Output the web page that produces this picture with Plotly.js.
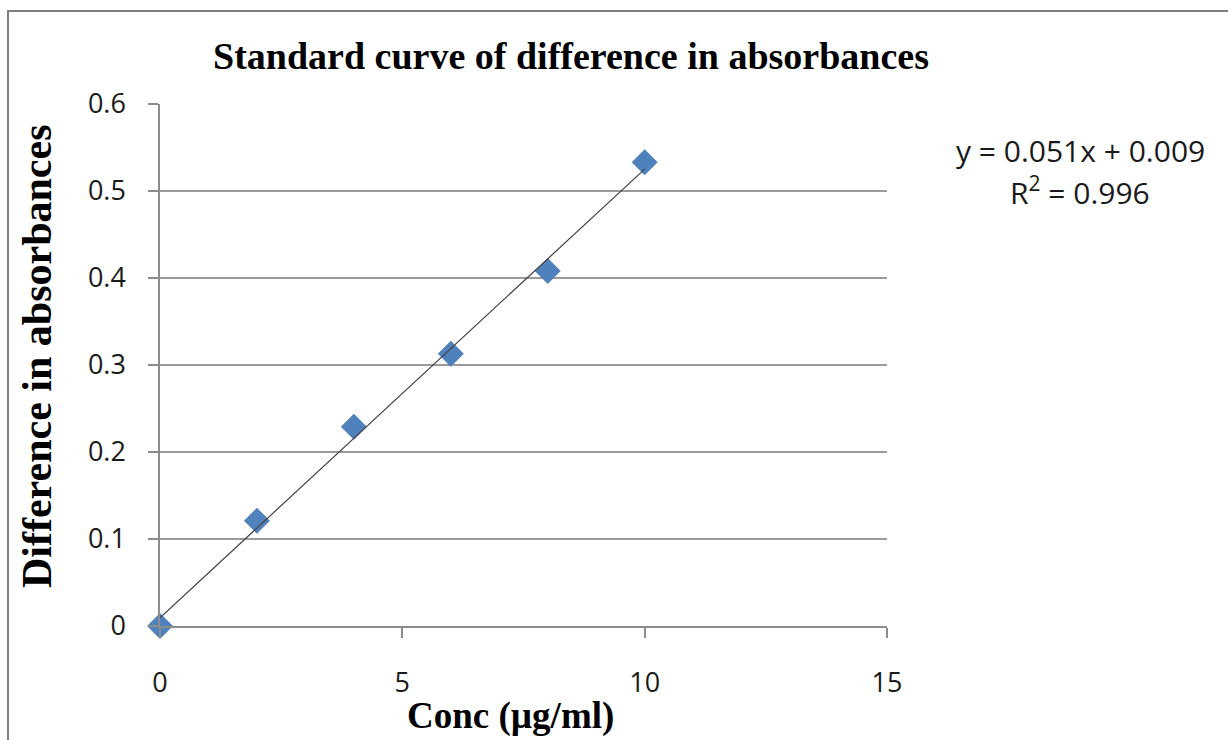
<!DOCTYPE html>
<html>
<head>
<meta charset="utf-8">
<script src="https://cdn.plot.ly/plotly-3.0.1.min.js"></script>
<style>
  html, body { margin: 0; padding: 0; background: #fff; }
  #wrap { position: absolute; left: 0; top: 0; width: 1228px; height: 740px; overflow: hidden; }
  #frame { position: absolute; left: 7px; top: 10px; width: 1240px; height: 760px;
           border-left: 2px solid #7f7f7f; border-top: 2px solid #7f7f7f; pointer-events: none; }
  #chart { position: absolute; left: 0; top: 0; width: 1228px; height: 740px; }
</style>
</head>
<body>
<div id="wrap">
  <div id="chart"></div>
  <div id="frame"></div>
</div>
<script>
// Data
const conc = [0, 2, 4, 6, 8, 10];
const absDiff = [0, 0.121, 0.229, 0.313, 0.408, 0.533];
const xTicks = [0, 5, 10, 15];
const yTicks = [0, 0.1, 0.2, 0.3, 0.4, 0.5, 0.6];
const titleText = "Standard curve of difference in absorbances";
const xTitle = "Conc (µg/ml)";
const yTitle = "Difference in absorbances";
const eqLine1 = "y = 0.051x + 0.009";
const eqLine2 = "R<sup>2</sup> = 0.996";

// Linear least-squares trendline computed from the data
const n = conc.length;
const mx = conc.reduce((a, b) => a + b, 0) / n;
const my = absDiff.reduce((a, b) => a + b, 0) / n;
let sxy = 0, sxx = 0;
for (let i = 0; i < n; i++) { sxy += (conc[i] - mx) * (absDiff[i] - my); sxx += (conc[i] - mx) ** 2; }
const slope = sxy / sxx;
const intercept = my - slope * mx;
const trendX = [Math.min(...conc), Math.max(...conc)];
const trendY = trendX.map(x => slope * x + intercept);

const tickFont = { family: "Open Sans, Noto Sans, sans-serif", size: 27, color: "#1a1a1a" };
const eqFont = { family: "Open Sans, Noto Sans, sans-serif", size: 30, color: "#1a1a1a" };
const serifBold = "Liberation Serif, Times New Roman, serif";

const data = [
  {
    x: conc, y: absDiff, type: "scatter", mode: "markers",
    marker: { symbol: "diamond", size: 20, color: "#4F81BD", line: { width: 0 } },
    cliponaxis: false,
    hoverinfo: "x+y", showlegend: false
  },
  {
    x: trendX, y: trendY, type: "scatter", mode: "lines",
    line: { color: "#404040", width: 1.2 },
    cliponaxis: false,
    hoverinfo: "skip", showlegend: false
  }
];

const layout = {
  width: 1228, height: 740,
  margin: { l: 160, r: 341, t: 104, b: 114, pad: 0 },
  paper_bgcolor: "#ffffff", plot_bgcolor: "#ffffff",
  showlegend: false,
  title: {
    text: "<b>" + titleText + "</b>",
    font: { family: serifBold, size: 38, color: "#000" },
    xref: "container", yref: "container",
    x: 571 / 1228, xanchor: "center",
    y: 1 - 56 / 740, yanchor: "middle"
  },
  xaxis: {
    range: [0, 15], tickvals: xTicks, ticktext: xTicks.map(String),
    showgrid: false, zeroline: false,
    showline: true, linecolor: "#8c8c8c", linewidth: 1.5,
    ticks: "outside", ticklen: 10, tickcolor: "#8c8c8c", tickwidth: 1.5,
    ticklabelstandoff: 22,
    tickfont: tickFont, fixedrange: true
  },
  yaxis: {
    range: [0, 0.6], tickvals: yTicks, ticktext: yTicks.map(v => v === 0 ? "0" : v.toFixed(1)),
    showgrid: true, gridcolor: "#9a9a9a", gridwidth: 1.5,
    zeroline: false,
    showline: true, linecolor: "#8c8c8c", linewidth: 1.5,
    ticks: "outside", ticklen: 10, tickcolor: "#8c8c8c", tickwidth: 1.5,
    ticklabelstandoff: 17,
    tickfont: tickFont, fixedrange: true
  },
  annotations: [
    {
      text: "<b>" + yTitle + "</b>", textangle: -90,
      xref: "paper", yref: "paper",
      x: (37 - 160) / 727, y: (626 - 356) / 522,
      xanchor: "center", yanchor: "middle", showarrow: false,
      font: { family: serifBold, size: 42, color: "#000" }
    },
    {
      text: "<b>" + xTitle + "</b>",
      xref: "paper", yref: "paper",
      x: (510 - 160) / 727, y: (626 - 716) / 522,
      xanchor: "center", yanchor: "middle", showarrow: false,
      font: { family: serifBold, size: 37, color: "#000" }
    },
    {
      text: eqLine1,
      xref: "paper", yref: "paper",
      x: (1080 - 160) / 727, y: (626 - 150) / 522,
      xanchor: "center", yanchor: "middle", showarrow: false,
      font: eqFont
    },
    {
      text: eqLine2,
      xref: "paper", yref: "paper",
      x: (1080 - 160) / 727, y: (626 - 191) / 522,
      xanchor: "center", yanchor: "middle", showarrow: false,
      font: eqFont
    }
  ]
};

Plotly.newPlot("chart", data, layout, { displayModeBar: false });
</script>
</body>
</html>
